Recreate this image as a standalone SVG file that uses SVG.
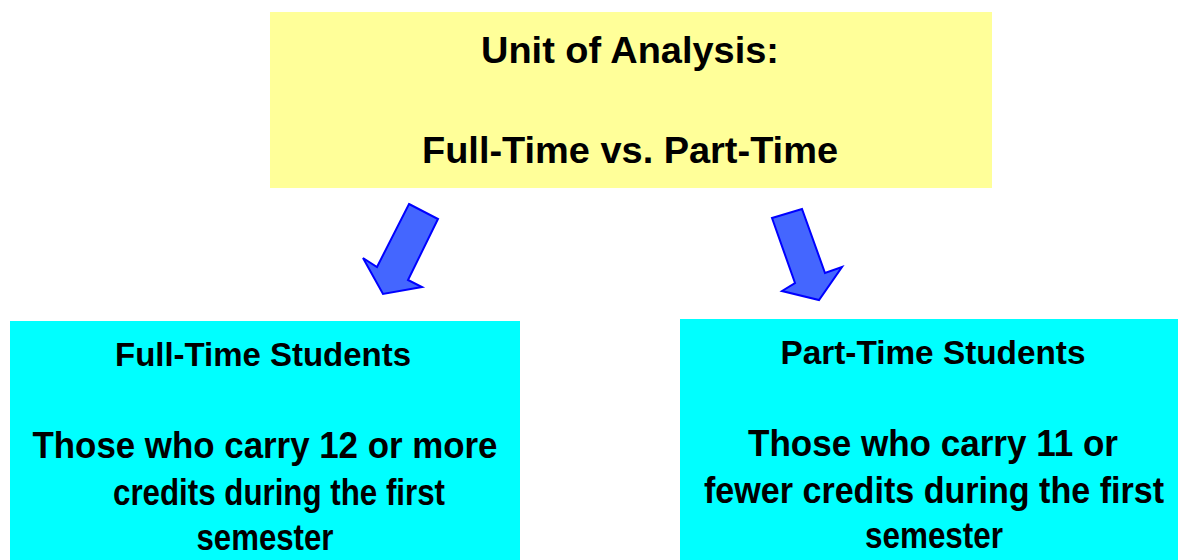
<svg xmlns="http://www.w3.org/2000/svg" width="1178" height="560" viewBox="0 0 1178 560">
<style>
.t{font-family:"Liberation Sans",Arial,sans-serif;font-weight:bold;fill:#000;text-anchor:middle}
.big{font-size:37px}
.head{font-size:33px}
.arrow{fill:#4466ff;stroke:#0000ff;stroke-width:2;stroke-linejoin:miter}
</style>
<rect width="1178" height="560" fill="#fff"/>
<g id="top">
<rect x="270" y="12" width="722" height="176" fill="#ffff99"/>
<text class="t big" x="630" y="63" textLength="298" lengthAdjust="spacingAndGlyphs">Unit of Analysis:</text>
<text class="t big" x="630" y="163" textLength="416" lengthAdjust="spacingAndGlyphs">Full-Time vs. Part-Time</text>
</g>
<g id="full">
<rect x="10" y="321" width="510" height="239" fill="#00ffff"/>
<text class="t head" x="263" y="366" textLength="296" lengthAdjust="spacingAndGlyphs">Full-Time Students</text>
<text class="t big" x="265" y="458" textLength="465" lengthAdjust="spacingAndGlyphs">Those who carry 12 or more</text>
<text class="t big" x="279" y="505" textLength="332" lengthAdjust="spacingAndGlyphs">credits during the first</text>
<text class="t big" x="265" y="550" textLength="137" lengthAdjust="spacingAndGlyphs">semester</text>
</g>
<g id="part">
<rect x="680" y="319" width="498" height="241" fill="#00ffff"/>
<text class="t head" x="933" y="364" textLength="305" lengthAdjust="spacingAndGlyphs">Part-Time Students</text>
<text class="t big" x="933" y="456" textLength="370" lengthAdjust="spacingAndGlyphs">Those who carry 11 or</text>
<text class="t big" x="934" y="503" textLength="460" lengthAdjust="spacingAndGlyphs">fewer credits during the first</text>
<text class="t big" x="934" y="548" textLength="138" lengthAdjust="spacingAndGlyphs">semester</text>
</g>
<g id="connectors">
<polygon class="arrow" points="409,204 438,219 408,280 422,287 383,294 363,258 377,267"/>
<polygon class="arrow" points="772,218 802,209 825,273 842,267 819,300 782,291 795,283"/>
</g>
</svg>
